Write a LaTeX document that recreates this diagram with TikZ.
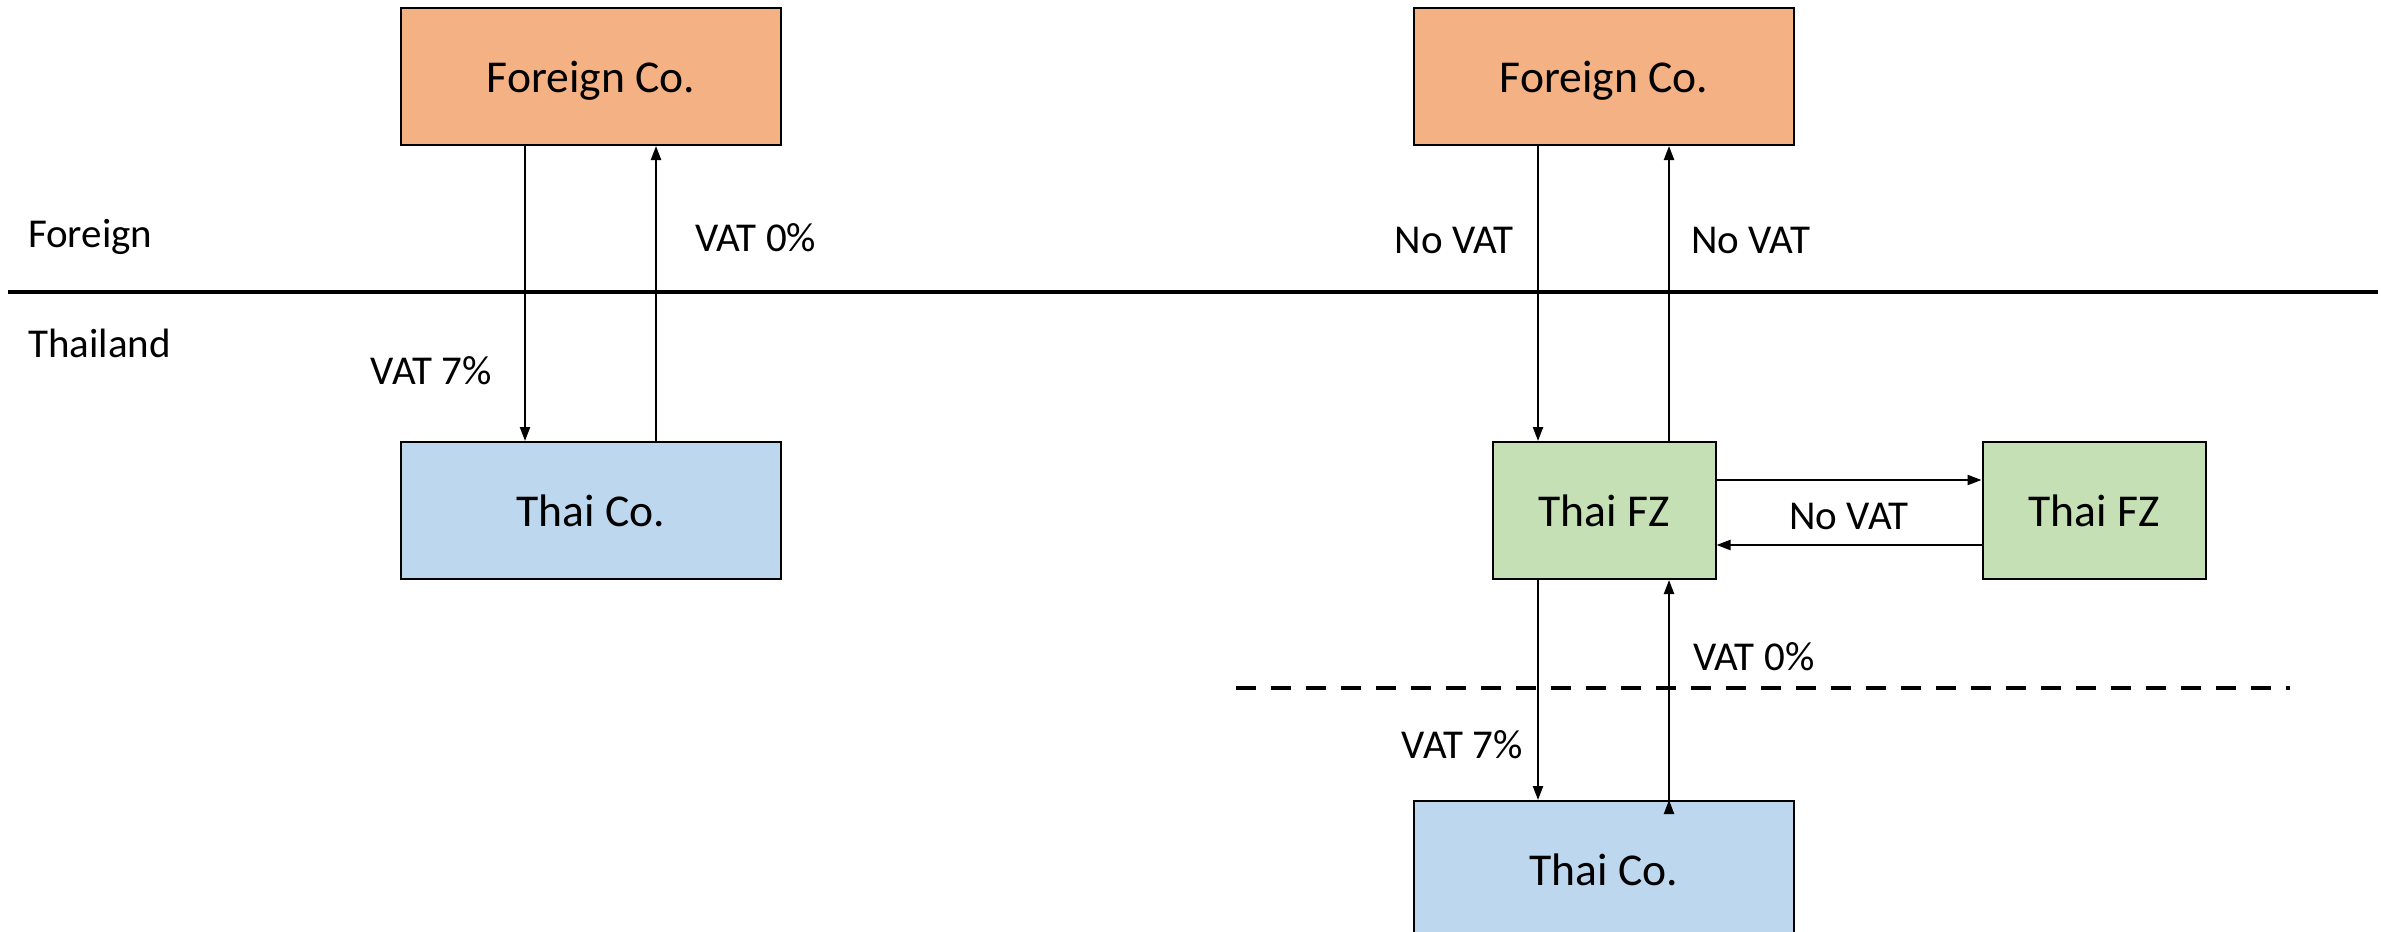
\documentclass[tikz,border=0pt]{standalone}
\usepackage{fontspec}
\setmainfont{Carlito}
\usetikzlibrary{positioning,arrows.meta}
\definecolor{frgnorange}{HTML}{F4B183}
\definecolor{thaiblue}{HTML}{BDD7EE}
\definecolor{fzgreen}{HTML}{C5E0B4}

\begin{document}
\begin{tikzpicture}[-{Triangle[length=7pt,width=5pt]},line width=1.1pt,
        co node/.style={rectangle, draw, line width=1pt, inner sep=0pt, text depth=0pt,
        minimum width=190pt, minimum height=68.5pt, font=\fontsize{22.8}{26}\selectfont},
        fz node/.style={co node, minimum width=111.5pt, fill=fzgreen},
        vat label/.style={font=\fontsize{20.5}{24}\selectfont, inner sep=0pt}
        ]

        \useasboundingbox (0,0) rectangle (1190.5pt,-465.5pt);

        % left: direct trade
        \node [co node, fill=frgnorange] (lf) at (295.5pt,-38.25pt) {Foreign Co.};
        \node [co node, fill=thaiblue] (lt) [below = 147.5pt of lf] {Thai Co.};
        % right: through the free zone
        \node [co node, fill=frgnorange] (rf) [right = 315.5pt of lf] {Foreign Co.};
        \node [fz node] (fz1) [below = 147.5pt of rf] {Thai FZ};
        \node [fz node] (fz2) [right = 132.5pt of fz1] {Thai FZ};
        \node [co node, fill=thaiblue] (rt) [below = 110pt of fz1] {Thai Co.};

        % borders
        \draw [-, line width=2pt] (4pt,-146pt) -- (1189pt,-146pt);
        \draw [-, line width=2pt, dash pattern=on 10pt off 7.5pt] (618pt,-344pt) -- (1145pt,-344pt);
        \node [vat label, anchor=west] (frgn) at (13.5pt,-118.5pt) {Foreign};
        \node [vat label, anchor=west] (thld) at (13.5pt,-171.5pt) {Thailand};

        \path[draw]
        ([xshift=-33pt]lf.south) edge node [vat label, left=16pt, pos=0.76] {VAT 7\%} ([xshift=-33pt]lt.north)
        ([xshift=32.5pt]lt.north) edge node [vat label, right=19pt, pos=0.69] {VAT 0\%} ([xshift=32.5pt]lf.south)
        ([xshift=-33pt]rf.south) edge node [vat label, left=11.5pt, pos=0.32] {No VAT} ([xshift=-33pt]fz1.north)
        ([xshift=32.5pt]fz1.north) edge node [vat label, right=10.5pt, pos=0.68] {No VAT} ([xshift=32.5pt]rf.south)
        ([yshift=15.25pt]fz1.east) edge ([yshift=15.25pt]fz2.west)
        ([yshift=-17.25pt]fz2.west) edge ([yshift=-17.25pt]fz1.east)
        ([xshift=-33pt]fz1.south) edge node [vat label, left=7pt, pos=0.75] {VAT 7\%} ([xshift=-33pt]rt.north)
        ([xshift=32.5pt]rt.north) edge node [vat label, right=11.5pt, pos=0.65] {VAT 0\%} ([xshift=32.5pt]fz1.south)
        ;
        \path (fz1) -- node [vat label, yshift=-2.75pt] (nv) {No VAT} (fz2);
\end{tikzpicture}
\end{document}
